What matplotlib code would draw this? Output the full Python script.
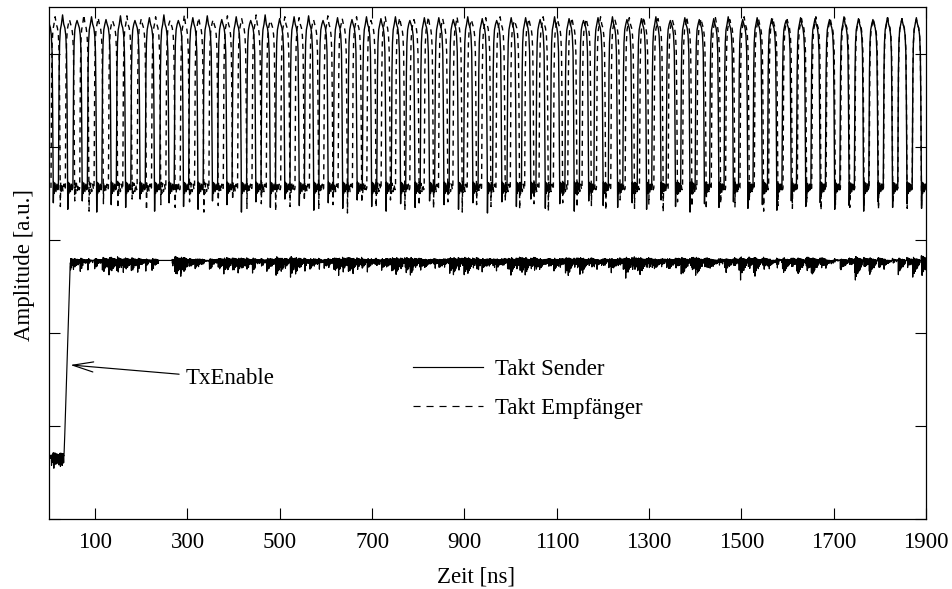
import numpy as np
import matplotlib
matplotlib.use("Agg")
import matplotlib.pyplot as plt
from matplotlib.lines import Line2D

# ---------------- data ----------------
# rising-edge times [ns] of the two clock signals
sender_rise = [-10.9, 20.4, 51.8, 83.1, 114.5, 145.8, 177.2, 208.5, 239.9, 271.2, 302.6,
               333.9, 365.3, 396.6, 428.0, 459.3, 490.7, 522.0, 553.4, 584.7, 616.1,
               647.4, 678.8, 710.1, 741.5, 772.8, 804.2, 835.5, 866.9, 898.2, 929.6,
               960.9, 992.3, 1023.6, 1055.0, 1086.3, 1117.7, 1149.0, 1180.4, 1211.7, 1243.1,
               1274.4, 1305.8, 1337.1, 1368.5, 1399.8, 1431.2, 1462.5, 1493.9, 1525.2, 1556.6,
               1587.9, 1619.3, 1650.6, 1682.0, 1713.3, 1744.7, 1776.0, 1807.4, 1838.7, 1870.1,
               1901.4]
empf_rise = [4.3, 35.4, 66.5, 97.6, 128.7, 159.8, 190.9, 222.0, 253.1, 284.2, 315.3,
             346.4, 377.5, 408.5, 439.7, 470.7, 501.9, 532.9, 564.1, 595.1, 626.3,
             657.3, 688.5, 719.5, 750.7, 781.7, 812.8, 843.9, 875.0, 906.1, 937.2,
             968.3, 999.4, 1030.5, 1061.6, 1092.7, 1123.8, 1154.8, 1186.0, 1217.0, 1248.2,
             1279.2, 1310.4, 1341.4, 1372.6, 1403.6, 1434.8, 1465.8, 1497.0, 1528.0, 1559.1,
             1590.2, 1621.3, 1652.4, 1683.5, 1714.6, 1745.7, 1776.8, 1807.9, 1839.0, 1870.1,
             1901.4]
# per-period undershoot minima and top peaks (a.u.)
sender_under = [3.40, 3.33, 3.42, 3.30, 3.38, 3.35, 3.44, 3.31, 3.40, 3.36, 3.33, 3.42, 3.38,
                3.30, 3.41, 3.35, 3.44, 3.37, 3.32, 3.40, 3.34, 3.43, 3.36, 3.31, 3.39, 3.35,
                3.42, 3.38, 3.33, 3.40, 3.29, 3.41, 3.36, 3.44, 3.34, 3.39, 3.31, 3.42, 3.37,
                3.35, 3.40, 3.33, 3.43, 3.36, 3.30, 3.39, 3.35, 3.41, 3.34, 3.38, 3.32, 3.42,
                3.36, 3.40, 3.33, 3.37, 3.31, 3.41, 3.35, 3.39, 3.34, 3.38]
empf_under = [3.36, 3.42, 3.31, 3.39, 3.34, 3.44, 3.32, 3.38, 3.35, 3.41, 3.30, 3.37, 3.43,
              3.34, 3.39, 3.31, 3.36, 3.42, 3.33, 3.38, 3.29, 3.40, 3.35, 3.43, 3.32, 3.37,
              3.34, 3.41, 3.30, 3.38, 3.36, 3.42, 3.33, 3.39, 3.31, 3.40, 3.35, 3.37, 3.32,
              3.43, 3.34, 3.38, 3.30, 3.41, 3.36, 3.33, 3.39, 3.35, 3.42, 3.31, 3.37, 3.34,
              3.40, 3.32, 3.38, 3.35, 3.36, 3.33, 3.39, 3.34, 3.37, 3.35]
sender_top = [5.38, 5.42, 5.36, 5.40, 5.37, 5.41, 5.36, 5.39, 5.42, 5.36, 5.39, 5.41, 5.37,
              5.40, 5.36, 5.42, 5.38, 5.40, 5.41, 5.36, 5.39, 5.37, 5.40, 5.38, 5.40, 5.36,
              5.39, 5.39, 5.37, 5.40, 5.38, 5.36, 5.39, 5.39, 5.37, 5.40, 5.38, 5.36, 5.39,
              5.40, 5.37, 5.38, 5.40, 5.36, 5.39, 5.37, 5.38, 5.40, 5.37, 5.39, 5.38, 5.36,
              5.39, 5.38, 5.37, 5.40, 5.38, 5.37, 5.39, 5.38, 5.39, 5.38]
empf_top = [5.40, 5.37, 5.42, 5.39, 5.36, 5.41, 5.38, 5.40, 5.36, 5.42, 5.39, 5.37, 5.41,
            5.38, 5.42, 5.36, 5.40, 5.39, 5.37, 5.41, 5.38, 5.40, 5.36, 5.40, 5.39, 5.37,
            5.40, 5.38, 5.40, 5.37, 5.39, 5.40, 5.36, 5.38, 5.40, 5.37, 5.39, 5.38, 5.40,
            5.37, 5.39, 5.40, 5.38, 5.37, 5.40, 5.38, 5.39, 5.37, 5.40, 5.38, 5.39, 5.37,
            5.38, 5.40, 5.38, 5.39, 5.37, 5.38, 5.39, 5.38, 5.37, 5.38]
clk_low = 3.56

# TxEnable: corner points of the step, and a quiet (noise-free) interval
tx_t = [0.0, 32.5, 33.5, 45.5, 47.0, 1900.0]
tx_v = [0.68, 0.68, 0.80, 2.70, 2.78, 2.78]
tx_quiet = [(237.0, 267.0)]

labels = ["Takt Sender", "Takt Empfänger"]
xticks = [100, 300, 500, 700, 900, 1100, 1300, 1500, 1700, 1900]
yticks = [0, 1, 2, 3, 4, 5]

# ---------------- waveform rendering helpers ----------------
# pulse shape relative to a rising edge (offset ns, level); "L"/"U"/"P" are replaced
shape = [(0.0, "L"), (0.7, 4.1), (1.5, 4.8), (2.6, 5.12), (4.2, 5.26), (6.5, 5.32),
         (9.0, "P"), (11.5, 5.32), (14.0, 5.28), (16.0, 5.20), (17.6, 5.02), (18.7, 4.5),
         (19.7, 3.85), (20.3, "U"), (21.1, 3.62), (22.3, 3.50), (24.0, 3.61), (26.0, 3.52),
         (28.0, 3.60), (30.0, 3.54), (30.8, 3.56)]


def clock_wave(rises, unders, tops):
    ts, vs = [], []
    for i, r in enumerate(rises):
        for dt, v in shape:
            if v == "L":
                v = clk_low
            elif v == "U":
                v = unders[i % len(unders)]
            elif v == "P":
                v = tops[i % len(tops)]
            ts.append(r + dt)
            vs.append(v)
    return np.array(ts), np.array(vs)


# edge-coupled ringing (shape of the crosstalk seen on TxEnable)
ring_dt = [0.0, 0.5, 1.0, 1.5, 2.0, 2.5, 3.0, 3.5, 4.0, 4.5, 5.0, 5.5, 6.0, 6.5, 7.0,
           7.5, 8.0, 8.5, 9.0, 9.5, 10.0, 10.5, 11.0, 11.5, 12.0, 12.5, 13.0, 13.5,
           14.0, 14.5, 15.0, 15.5, 16.0]
ring_v = [0.0, -1.0, 0.4, -0.7, 0.8, -0.5, 0.3, -0.9, 0.5, -0.4, 0.6, -0.75, 0.35,
          -0.5, 0.45, -0.6, 0.3, -0.35, 0.5, -0.45, 0.25, -0.55, 0.35, -0.3, 0.2,
          -0.4, 0.3, -0.25, 0.2, -0.3, 0.15, -0.15, 0.0]


def crosstalk(t, rises_list, amp=0.07):
    n = np.zeros_like(t)
    for rises in rises_list:
        for r in rises:
            for e, s in ((r + 0.8, 1.0), (r + 19.4, -0.9)):
                n += s * amp * np.interp(t - e, ring_dt, ring_v, left=0.0, right=0.0)
    return n - 0.6 * np.abs(n)


# ---------------- figure ----------------
plt.rcParams['font.family'] = ['Liberation Serif', 'DejaVu Serif']
fig = plt.figure(figsize=(9.53, 5.89), dpi=100)
ax = fig.add_axes([49 / 953, 70 / 589, 877 / 953, 512 / 589])

ts, vs = clock_wave(sender_rise, sender_under, sender_top)
td, vd = clock_wave(empf_rise, empf_under, empf_top)

t_fine = np.arange(0.0, 1900.01, 0.25)
tx = np.interp(t_fine, tx_t, tx_v)
noise = crosstalk(t_fine, [sender_rise, empf_rise])
for a, b in tx_quiet:
    noise[(t_fine > a) & (t_fine < b)] = 0.0
noise[(t_fine > 32.0) & (t_fine < 46.0)] = 0.0
tx = tx + noise

lw = 1.0
l1, = ax.plot(ts, vs, color='black', lw=lw, solid_joinstyle='round')
l2, = ax.plot(td, vd, color='black', lw=lw, dashes=(3.8, 3.4))
ax.plot(t_fine, tx, color='black', lw=0.85)

ax.set_xlim(0, 1900)
ax.set_ylim(0, 5.505)
ax.set_xticks(xticks)
ax.set_xticklabels([str(v) for v in xticks])
ax.set_yticks(yticks)
ax.set_yticklabels([])
ax.tick_params(direction='in', length=8, width=0.8, top=True, right=True,
               labelsize=16.5, pad=9.4, colors='black')
for sp in ax.spines.values():
    sp.set_linewidth(0.9)
    sp.set_color('black')

ax.set_xlabel("Zeit [ns]", fontsize=16.5, va='center')
ax.xaxis.set_label_coords(0.487, -0.1133)
ax.set_ylabel("Amplitude [a.u.]", fontsize=16.5, va='center')
ax.yaxis.set_label_coords(-0.0285, 0.496)

h1 = Line2D([], [], color='black', lw=0.85)
h2 = Line2D([], [], color='black', lw=0.85, dashes=(6.0, 5.0))
ax.legend([h1, h2], labels, loc='upper left', bbox_to_anchor=(0.415, 0.312),
          frameon=False, fontsize=16.5, borderpad=0, borderaxespad=0,
          handlelength=3.05, handletextpad=0.52, labelspacing=0.75)

ax.annotate("TxEnable", xy=(46.0, 1.656), xytext=(296.9, 1.51),
            textcoords='data', ha='left', va='center', fontsize=16.5,
            arrowprops=dict(arrowstyle='->,head_length=0.9,head_width=0.22',
                            color='black', lw=0.85, shrinkA=3, shrinkB=0))

fig.savefig("out.png", dpi=100)
